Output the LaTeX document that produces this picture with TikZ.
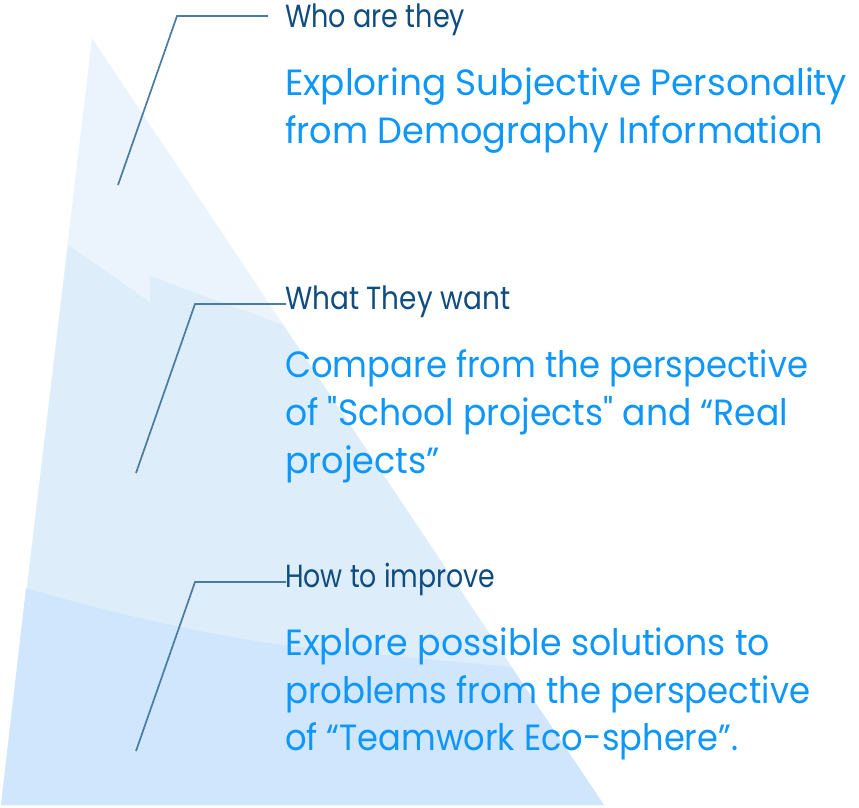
\documentclass[tikz,border=0pt]{standalone}
\usepackage{fontspec}
\usepackage{graphicx}
\setmainfont{Poppins}[Ligatures=TeXOff]
\definecolor{layerA}{RGB}{235,244,252}
\definecolor{layerB}{RGB}{222,237,250}
\definecolor{layerC}{RGB}{208,230,252}
\definecolor{headc}{RGB}{16,76,128}
\definecolor{bodyc}{RGB}{14,150,250}
\definecolor{linec}{RGB}{74,123,160}
\newcommand\fitto[2]{\setbox0=\hbox{#2}\pgfmathsetmacro\fitf{#1/\wd0}\scalebox{\fitf}[1]{\box0}}
\begin{document}
\begin{tikzpicture}[x=1pt,y=-1pt,
  head/.style={anchor=base west, inner sep=0pt, text=headc, font=\fontsize{32}{36}\selectfont},
  body/.style={anchor=base west, inner sep=0pt, text=bodyc, font=\fontsize{36.5}{44}\selectfont},
  leader/.style={draw=linec, line width=1.7pt}]
\useasboundingbox (0,0) rectangle (859,807);
% layers
\fill[layerA] (92,38) -- (604,805) -- (1,805) -- cycle;
\fill[layerB] (68,245) -- (150,302) -- (150,276) -- (283,325) -- (604,805) -- (1,805) -- cycle;
\fill[layerC] (26,588) .. controls (140,622) and (250,642) .. (300,647) -- (511,667) -- (604,805) -- (1,805) -- cycle;
% texts
\node[head] (h1) at (285,27) {\fitto{180}{Who are they}};
\node[body] (b1a) at (285,95) {\fitto{562}{Exploring Subjective Personality}};
\node[body] (b1b) at (285,143) {\fitto{538}{from Demography Information}};
\node[head] (h2) at (285,309) {\fitto{225}{What They want}};
\node[body] (b2a) at (285,377) {\fitto{523}{Compare from the perspective}};
\node[body] (b2b) at (285,425) {\fitto{503}{of "School projects" and “Real}};
\node[body] (b2c) at (285,473) {\fitto{155}{projects”}};
\node[head] (h3) at (285,587) {\fitto{210}{How to improve}};
\node[body] (b3a) at (285,655) {\fitto{485}{Explore possible solutions to}};
\node[body] (b3b) at (285,703) {\fitto{525}{problems from the perspective}};
\node[body] (b3c) at (285,750) {\fitto{453}{of “Teamwork Eco-sphere”.}};
% leaders
\coordinate (l1s) at (118,185);
\coordinate (l1k) at (177,16);
\coordinate (l1e) at (268,16);
\coordinate (l2s) at (136,473);
\coordinate (l2k) at (195,304);
\coordinate (l2e) at (286,304);
\coordinate (l3s) at (136,751);
\coordinate (l3k) at (195,582);
\coordinate (l3e) at (286,582);
\draw[leader] (l1s) -- (l1k) -- (l1e);
\draw[leader] (l2s) -- (l2k) -- (l2e);
\draw[leader] (l3s) -- (l3k) -- (l3e);
\end{tikzpicture}
\end{document}
